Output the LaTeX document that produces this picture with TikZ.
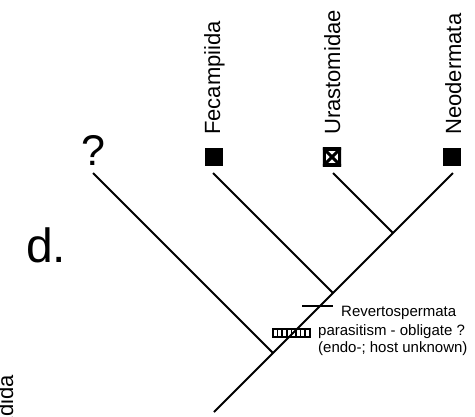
\documentclass[tikz,border=0pt]{standalone}
\usepackage{fontspec}
\setmainfont{Liberation Sans}
\usetikzlibrary{calc}
\begin{document}
\begin{tikzpicture}[x=1pt,y=-1pt,
  branch/.style={line width=1.9pt},
  taxon/.style={rotate=90,anchor=base west,inner sep=0pt,font=\fontsize{22}{24}\selectfont},
  note/.style={anchor=base west,inner sep=0pt,font=\fontsize{15}{17}\selectfont},
  solidsq/.style={fill=black,minimum size=18pt,inner sep=0pt,draw=none}]
\useasboundingbox (0,0) rectangle (475,416);
% tips and internal nodes
\coordinate (qtip) at (93,173);
\coordinate (ftip) at (213,173);
\coordinate (utip) at (333,173);
\coordinate (ntip) at (453,173);
\coordinate (nu) at (393,233);
\coordinate (nf) at (333,293);
\coordinate (nq) at (273,353);
\coordinate (root) at (214,412);
\draw[branch] (ntip) -- (nu) -- (nf) -- (nq) -- (root);
\draw[branch] (qtip) -- (nq);
\draw[branch] (ftip) -- (nf);
\draw[branch] (utip) -- (nu);
% character symbols
\node[solidsq] (fsq) at (214,157) {};
\node[solidsq] (nsq) at (452,157) {};
\node[minimum size=18pt,inner sep=0pt] (usq) at (332,157) {};
\begin{scope}
\clip (usq.south west) rectangle (usq.north east);
\draw[line width=3pt] (usq.south west) -- (usq.north east);
\draw[line width=3pt] (usq.north west) -- (usq.south east);
\draw[line width=6pt] (usq.south west) rectangle (usq.north east);
\end{scope}
% labels
\node[taxon] (lf) at (220,135) {Fecampiida};
\node[taxon] (lu) at (340,135) {Urastomidae};
\node[taxon] (ln) at (461,135) {Neodermata};
\node[anchor=base,inner sep=0pt,font=\fontsize{43}{45}\selectfont] (qm) at (93,165) {?};
\node[anchor=base west,inner sep=0pt,font=\fontsize{48}{50}\selectfont] (panel) at (26,262) {d.};
\node[rotate=90,anchor=base east,inner sep=0pt,font=\fontsize{22}{24}\selectfont] (cut) at (13,375) {Polycladida};
% Revertospermata tick
\coordinate (ta) at (302,306);
\coordinate (tb) at (333,306);
\draw[branch] (ta) -- (tb);
\node[note] (rev) at (341,316) {Revertospermata};
% parasitism bar
\coordinate (pa) at (273,329);
\coordinate (pb) at (310,337);
\draw[line width=1.5pt] (pa) rectangle (pb);
\foreach \i in {1,...,7} {
  \draw[line width=1.5pt] ($(pa)+(\i*4.6,0)$) -- ($(pa)+(\i*4.6,8)$);
}
\node[note] (p1) at (318,335) {parasitism - obligate ?};
\node[note] (p2) at (318,352) {(endo-; host unknown)};
\end{tikzpicture}
\end{document}
